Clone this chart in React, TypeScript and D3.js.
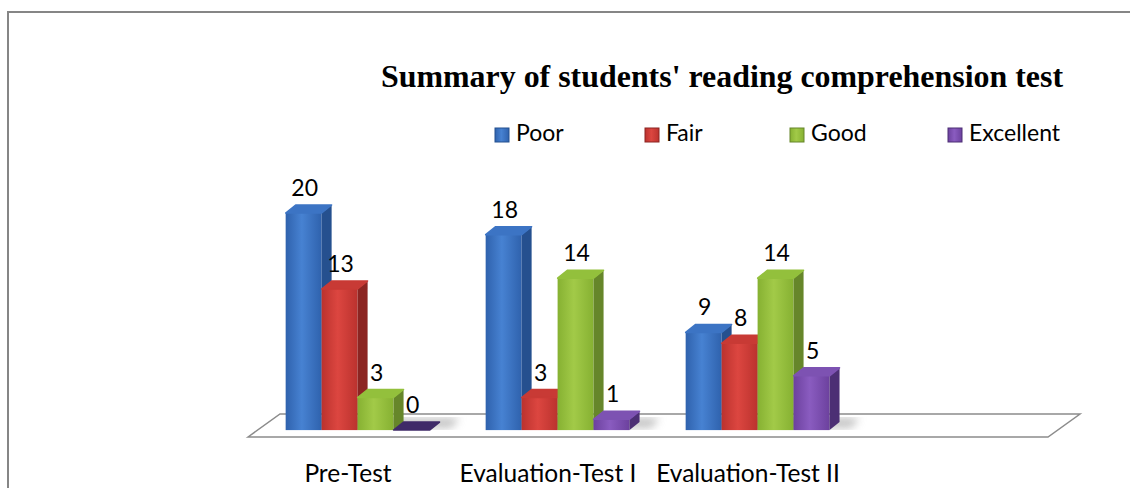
import React, { useEffect, useRef } from "react";
import * as d3 from "d3";

const categories = ["Pre-Test", "Evaluation-Test I", "Evaluation-Test II"];
const seriesNames = ["Poor", "Fair", "Good", "Excellent"];
const poor = [20, 18, 9];
const fair = [13, 3, 8];
const good = [3, 14, 14];
const excellent = [0, 1, 5];

// front / side / top shades for each series
const palette = [
	{ dark: "#2f62ad", light: "#4782d2", side: "#25508f", top: "#3c74c4" },
	{ dark: "#bb322e", light: "#dc4640", side: "#8c2522", top: "#c83a35" },
	{ dark: "#86b132", light: "#a2ca48", side: "#66862a", top: "#93c03c" },
	{ dark: "#6c419e", light: "#8a5cc0", side: "#4c2f74", top: "#7d52b2" },
];

const App = () => {
	const ref = useRef<HTMLDivElement>(null);

	useEffect(() => {
		const width = 1130;
		const height = 488;
		const floor = { left: 248, right: 1048, front: 437, dx: 32, dy: -23 };
		const plane = 0.3; // depth of the bar row on the floor
		const shiftX = floor.dx * plane;
		const base = floor.front + floor.dy * plane;
		const depthX = 10;
		const depthY = 8;
		const values = [poor, fair, good, excellent];

		d3.select(ref.current).selectAll("*").remove();
		const svg = d3
			.select(ref.current)
			.append("svg")
			.attr("width", width)
			.attr("height", height)
			.style("position", "absolute")
			.style("left", 0)
			.style("top", 0)
			.style("background", "#fff");

		const defs = svg.append("defs");
		palette.forEach((p, i) => {
			const g = defs.append("linearGradient").attr("id", `front${i}`).attr("x1", 0).attr("x2", 1).attr("y1", 0).attr("y2", 0);
			g.append("stop").attr("offset", 0).attr("stop-color", p.dark);
			g.append("stop").attr("offset", 0.45).attr("stop-color", p.light);
			g.append("stop").attr("offset", 1).attr("stop-color", p.dark);
		});
		defs.append("filter").attr("id", "blur").append("feGaussianBlur").attr("stdDeviation", 4);

		// chart area border
		svg
			.append("path")
			.attr("d", `M8,${height + 2} L8,12 L${width + 2},12`)
			.attr("fill", "none")
			.attr("stroke", "#868686")
			.attr("stroke-width", 2);

		const x = d3
			.scaleBand<string>()
			.domain([...categories, "(blank)"])
			.range([floor.left, floor.right]);
		const xs = d3
			.scaleBand<string>()
			.domain(seriesNames)
			.range([0, x.bandwidth()])
			.paddingInner(0)
			.paddingOuter(0.78);
		const y = d3.scaleLinear().domain([0, 20]).range([base, 213]);

		// floor
		svg
			.append("polygon")
			.attr(
				"points",
				[
					[floor.left, floor.front],
					[floor.left + floor.dx, floor.front + floor.dy],
					[floor.right + floor.dx, floor.front + floor.dy],
					[floor.right, floor.front],
				].join(" "),
			)
			.attr("fill", "#fff")
			.attr("stroke", "#8c8c8c")
			.attr("stroke-width", 1.5);

		// soft shadows behind each group
		categories.forEach((c) => {
			const x0 = x(c)! + shiftX + xs(seriesNames[0])!;
			const x1 = x(c)! + shiftX + xs(seriesNames[3])! + xs.bandwidth();
			svg
				.append("polygon")
				.attr("points", [[x0 + 4, base - 2], [x0 + 12, base - 12], [x1 + 30, base - 12], [x1 + 22, base - 2]].join(" "))
				.attr("fill", "#9a9a9a")
				.attr("opacity", 0.6)
				.attr("filter", "url(#blur)");
		});

		categories.forEach((c, ci) => {
			seriesNames.forEach((s, si) => {
				const v = values[si][ci];
				const p = palette[si];
				const bx = x(c)! + shiftX + xs(s)!;
				const bw = xs.bandwidth();
				const top = y(v);
				const g = svg.append("g");
				if (v > 0) {
					g.append("rect")
						.attr("x", bx)
						.attr("y", top)
						.attr("width", bw)
						.attr("height", base - top)
						.attr("fill", `url(#front${si})`);
					g.append("polygon")
						.attr("points", [[bx + bw, top], [bx + bw + depthX, top - depthY], [bx + bw + depthX, base - depthY], [bx + bw, base]].join(" "))
						.attr("fill", p.side);
				}
				g.append("polygon")
					.attr("points", [[bx, top], [bx + depthX, top - depthY], [bx + bw + depthX, top - depthY], [bx + bw, top]].join(" "))
					.attr("fill", v > 0 ? p.top : "#3f2a68")
					.attr("stroke", v > 0 ? p.top : "#3f2a68")
					.attr("stroke-linejoin", "round")
					.attr("stroke-width", 1.5);

				svg
					.append("text")
					.attr("x", bx + bw / 2 + 1)
					.attr("y", top - 17)
					.attr("text-anchor", "middle")
					.attr("font-family", "Lato, sans-serif")
					.attr("font-size", 23)
					.attr("fill", "#000")
					.text(v);
			});
		});

		// category labels
		svg
			.append("g")
			.selectAll("text")
			.data(categories)
			.join("text")
			.attr("x", (d) => x(d)! + x.bandwidth() / 2)
			.attr("y", 482)
			.attr("text-anchor", "middle")
			.attr("font-family", "Lato, sans-serif")
			.attr("font-size", 24.5)
			.attr("fill", "#000")
			.text((d) => d);

		// title
		svg
			.append("text")
			.attr("x", 381)
			.attr("y", 87)
			.attr("font-family", "'Liberation Serif', 'Times New Roman', serif")
			.attr("font-weight", "bold")
			.attr("font-size", 32)
			.attr("textLength", 682)
			.attr("lengthAdjust", "spacingAndGlyphs")
			.attr("fill", "#000")
			.text("Summary of students' reading comprehension test");

		// legend
		const legendX = [495, 645, 790, 948];
		const legend = svg
			.append("g")
			.selectAll("g")
			.data(seriesNames)
			.join("g")
			.attr("transform", (d, i) => `translate(${legendX[i]},128)`);
		legend
			.append("rect")
			.attr("width", 14)
			.attr("height", 14)
			.attr("fill", (d, i) => `url(#front${i})`)
			.attr("stroke", (d, i) => palette[i].side)
			.attr("stroke-width", 1);
		legend
			.append("text")
			.attr("x", 21)
			.attr("y", 13)
			.attr("font-family", "Lato, sans-serif")
			.attr("font-size", 23)
			.attr("fill", "#000")
			.text((d) => d);
	}, []);

	return <div ref={ref}></div>;
};

export default App;
